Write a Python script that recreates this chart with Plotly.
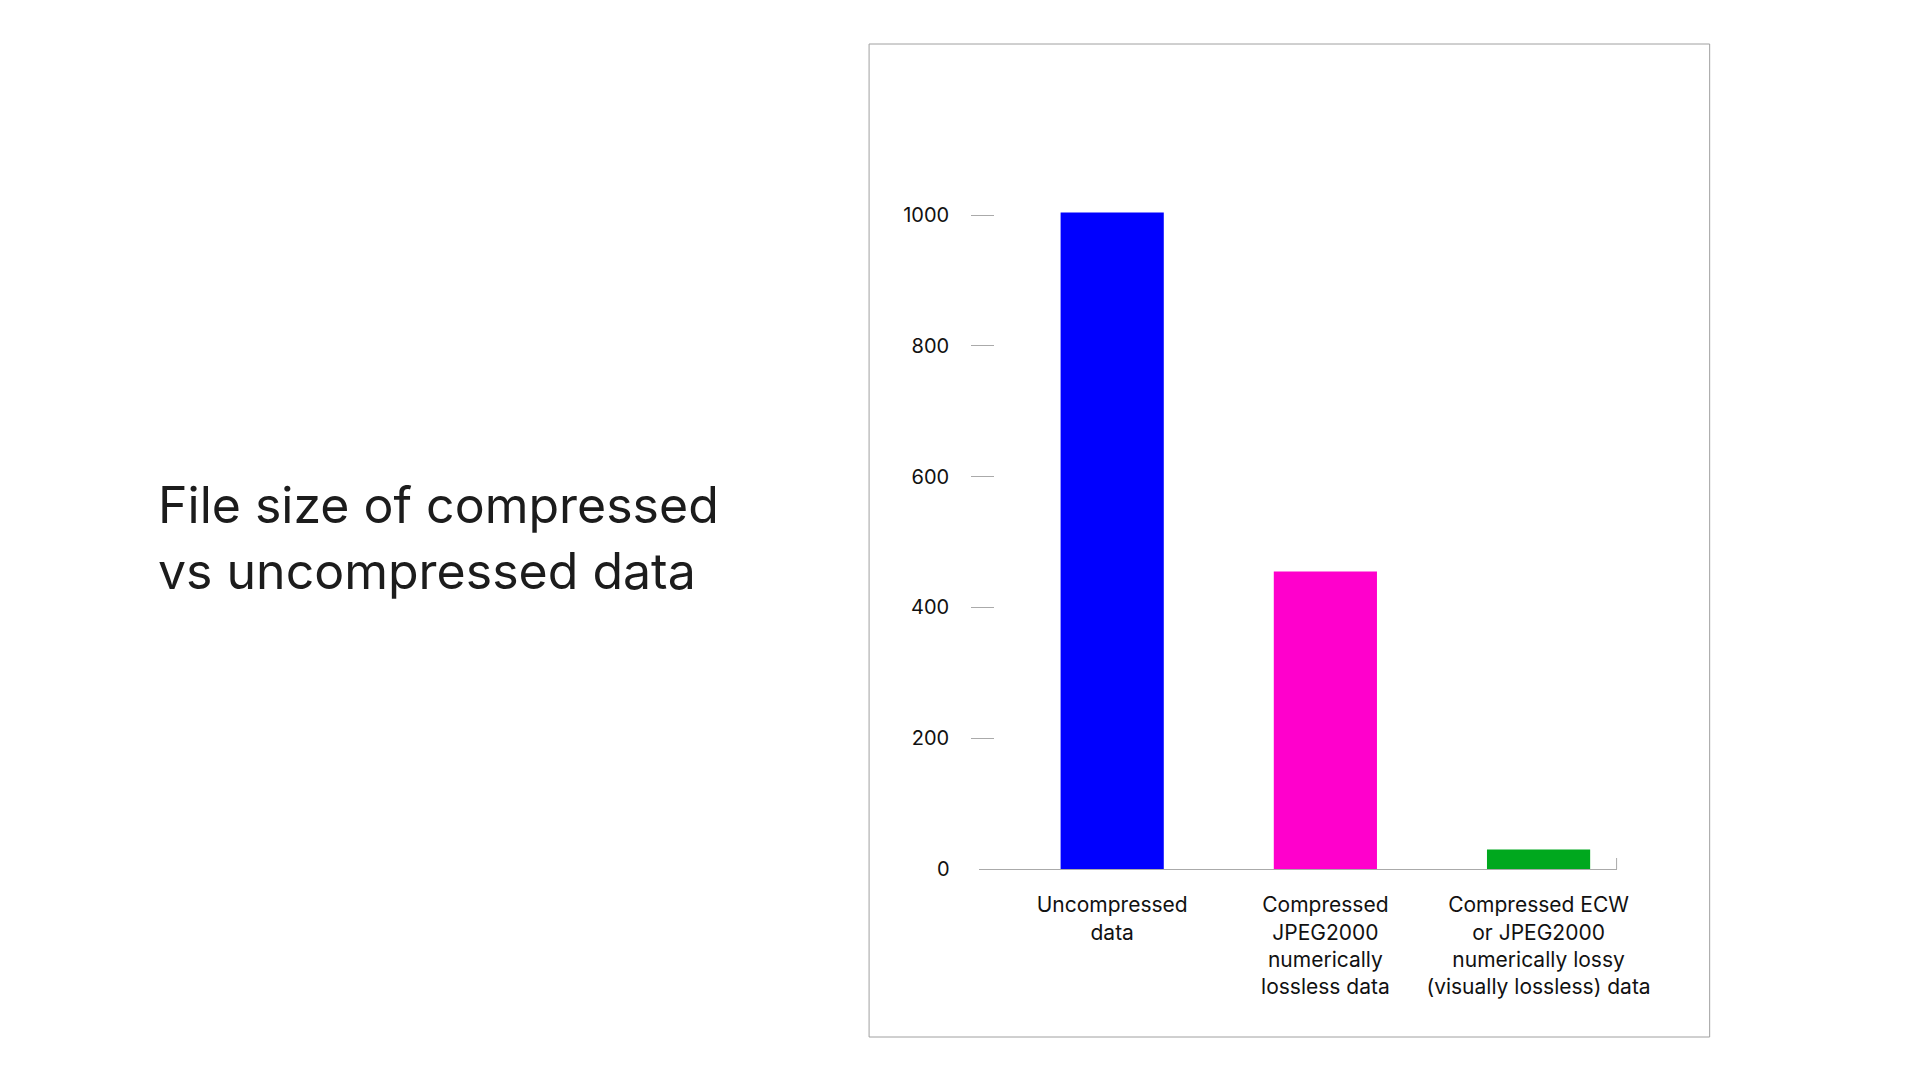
import plotly.graph_objects as go

categories = [
    "Uncompressed<br>data",
    "Compressed<br>JPEG2000<br>numerically<br>lossless data",
    "Compressed ECW<br>or JPEG2000<br>numerically lossy<br>(visually lossless) data",
]
values = [1004, 455, 30]
colors = ["#0000FF", "#FF00CC", "#00A81E"]
y_ticks = [0, 200, 400, 600, 800, 1000]
title_lines = ["File size of compressed", "vs uncompressed data"]

# figure canvas, and mapping from target-screen pixels to paper fractions
W, H = 1904, 1060
SX, OX = 0.982, 7.5
SY, OY = 1.0, 7.0
def px(x):
    return ((x - OX) / SX) / W
def py(y):
    return (H - (y - OY) / SY) / H

FONT = "Inter, Roboto, Arial, sans-serif"

y0_px, y1000_px = 868, 214
ytop = 1100
ytop_px = y0_px - ytop * (y0_px - y1000_px) / 1000

fig = go.Figure(
    go.Bar(
        x=categories,
        y=values,
        marker=dict(color=colors, line=dict(width=0)),
        hoverinfo="skip",
    )
)

fig.update_layout(
    width=W,
    height=H,
    margin=dict(l=0, r=0, t=0, b=0),
    paper_bgcolor="white",
    plot_bgcolor="white",
    showlegend=False,
    bargap=0.516,
    font=dict(family=FONT, color="#111111"),
    xaxis=dict(
        domain=[px(978), px(1615)],
        range=[-0.624, 2.366],
        showline=True,
        linecolor="#AAAAAA",
        linewidth=1,
        ticks="",
        showgrid=False,
        zeroline=False,
        tickfont=dict(family=FONT, size=21, color="#111111"),
        ticklabelstandoff=17,
        fixedrange=True,
    ),
    yaxis=dict(
        domain=[py(y0_px), py(ytop_px)],
        range=[0, ytop],
        anchor="free",
        position=px(993),
        tickvals=y_ticks[1:],
        ticktext=[str(v) for v in y_ticks[1:]],
        ticks="outside",
        ticklen=23,
        tickwidth=1,
        tickcolor="#AAAAAA",
        showline=False,
        showgrid=False,
        zeroline=False,
        tickfont=dict(family=FONT, size=20, color="#111111"),
        ticklabelstandoff=18,
        fixedrange=True,
    ),
)

# zero label (no tick mark drawn at zero in the original)
fig.add_annotation(
    text=str(y_ticks[0]), xref="paper", yref="y",
    x=px(951), y=y_ticks[0],
    xanchor="right", yanchor="middle", showarrow=False,
    font=dict(family=FONT, size=20, color="#111111"),
)

# outer frame
fig.add_shape(
    type="rect", xref="paper", yref="paper",
    x0=px(868), x1=px(1708), y0=py(1036), y1=py(43),
    line=dict(color="#A0A0A0", width=1), fillcolor="rgba(0,0,0,0)",
)
# small end tick of x axis
fig.add_shape(
    type="line", xref="paper", yref="paper",
    x0=px(1615), x1=px(1615), y0=py(868), y1=py(857),
    line=dict(color="#AAAAAA", width=1),
)

# title (two lines)
for i, line in enumerate(title_lines):
    fig.add_annotation(
        text=line, xref="paper", yref="paper",
        x=px(155), y=py(504 + i * 66),
        xanchor="left", yanchor="middle",
        showarrow=False,
        font=dict(family=FONT, size=50, color="#1C1C1C"),
    )

fig.write_html("out.html")
